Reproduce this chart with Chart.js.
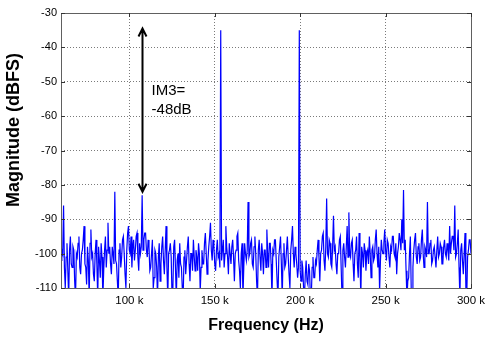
<!DOCTYPE html>
<html>
<head>
<meta charset="utf-8">
<script src="https://cdn.jsdelivr.net/npm/chart.js@4/dist/chart.umd.min.js"></script>
<style>
  body { margin: 0; background: #fff; }
  #wrap { width: 494px; height: 340px; }
</style>
</head>
<body>
<div id="wrap"><canvas id="spec" width="494" height="340"></canvas></div>
<script>
// two-tone spectrum, 0.5 kHz bins starting at 59.5 kHz (one row = 10 kHz)
var freqStartHz = 59500;
var freqStepHz = 500;
var magDbfs = [
  -96, -102, -99, -100, -86, -104, -110, -101, -97, -105, -113, -99, -95, -103, -104, -98, -99, -108, -113, -100,
  -101, -97, -95, -104, -106, -100, -99, -96, -92, -103, -104, -109, -98, -102, -113, -97, -93, -101, -100, -106,
  -108, -100, -96, -103, -113, -98, -102, -107, -97, -101, -113, -105, -99, -95, -104, -99, -91, -100, -98, -103,
  -106, -98, -100, -103, -82, -102, -103, -108, -113, -99, -97, -104, -101, -96, -95, -100, -106, -110, -99, -94,
  -92, -99, -100, -95, -104, -98, -96, -102, -99, -95, -94, -101, -105, -97, -100, -98, -83, -99, -96, -94,
  -94, -99, -101, -96, -98, -105, -104, -100, -96, -110, -107, -99, -100, -104, -113, -101, -97, -108, -103, -98,
  -95, -102, -106, -99, -92, -104, -113, -100, -99, -97, -101, -113, -110, -98, -96, -104, -113, -102, -100, -107,
  -97, -103, -104, -110, -113, -101, -99, -106, -102, -98, -95, -103, -108, -100, -100, -105, -96, -101, -105, -99,
  -101, -105, -97, -100, -111, -104, -99, -103, -103, -97, -94, -100, -106, -102, -98, -95, -91, -99, -102, -96,
  -98, -103, -105, -99, -96, -101, -100, -104, -35, -102, -99, -96, -104, -100, -92, -98, -101, -106, -97, -100,
  -103, -98, -96, -101, -108, -100, -99, -95, -94, -102, -105, -110, -100, -97, -113, -104, -97, -100, -102, -99,
  -85, -101, -100, -97, -96, -103, -104, -98, -95, -100, -108, -113, -99, -96, -101, -105, -97, -100, -106, -99,
  -99, -104, -93, -100, -104, -97, -97, -103, -113, -99, -100, -96, -96, -102, -108, -113, -101, -98, -95, -103,
  -113, -100, -97, -104, -103, -99, -95, -101, -106, -110, -99, -96, -92, -100, -104, -98, -100, -103, -107, -104,
  -35, -105, -108, -102, -104, -110, -113, -106, -102, -108, -109, -103, -105, -113, -113, -104, -101, -107, -107, -102,
  -103, -99, -96, -101, -108, -100, -99, -95, -94, -102, -105, -98, -84, -100, -101, -96, -97, -103, -104, -98,
  -89, -99, -98, -103, -106, -100, -100, -96, -95, -104, -113, -99, -97, -101, -104, -98, -92, -101, -88, -100,
  -101, -97, -96, -103, -108, -100, -99, -95, -103, -107, -94, -101, -113, -98, -100, -104, -97, -99, -105, -100,
  -99, -103, -95, -100, -107, -99, -98, -102, -101, -96, -93, -100, -104, -98, -111, -102, -96, -99, -100, -97,
  -93, -99, -102, -96, -97, -101, -104, -98, -99, -95, -95, -100, -101, -97, -106, -100, -98, -94, -96, -99,
  -90, -97, -81.5, -99, -96, -105, -113, -108, -107, -100, -95, -110, -113, -104, -99, -96, -94, -101, -103, -98,
  -97, -102, -101, -96, -93, -100, -104, -98, -99, -101, -85, -100, -100, -97, -96, -103, -102, -99, -98, -101,
  -104, -99, -95, -101, -100, -97, -98, -103, -103, -98, -96, -100, -101, -97, -99, -102, -92, -100, -97, -95,
  -95, -99, -86, -101, -100, -97, -93, -104, -113, -99, -97, -102, -106, -100, -94, -110, -113, -101, -99, -96,
  -96, -100, -101, -97, -98
];

var xTicks = [100000, 150000, 200000, 250000, 300000];
var xTickLabels = ['100 k', '150 k', '200 k', '250 k', '300 k'];
var yTicks = [-110, -100, -90, -80, -70, -60, -50, -40, -30];

// IM3 annotation
var im3Freq = 107500;
var im3Top = -34.5;
var im3Bottom = -82;
var im3Text = ['IM3=', '-48dB'];
var im3TextFreq = 113000;
var im3TextMag = [-53.8, -59.4];

var points = magDbfs.map(function(m, i){
  return { x: freqStartHz + i * freqStepHz, y: m };
});

// box, inward ticks, arrow and y title (matlab look)
var boxPlugin = {
  id: 'box',
  afterDatasetsDraw: function(chart){
    var ctx = chart.ctx, a = chart.chartArea;
    var xs = chart.scales.x, ys = chart.scales.y;
    ctx.save();
    ctx.strokeStyle = '#606060';
    ctx.lineWidth = 1;
    ctx.strokeRect(Math.round(a.left) + 0.5, Math.round(a.top) + 0.5,
      Math.round(a.right - a.left), Math.round(a.bottom - a.top));
    ctx.strokeStyle = '#333';
    ctx.beginPath();
    xTicks.forEach(function(v){
      var px = Math.round(xs.getPixelForValue(v)) + 0.5;
      ctx.moveTo(px, a.top); ctx.lineTo(px, a.top + 4);
      ctx.moveTo(px, a.bottom); ctx.lineTo(px, a.bottom - 4);
    });
    yTicks.forEach(function(v){
      var py = Math.round(ys.getPixelForValue(v)) + 0.5;
      ctx.moveTo(a.left, py); ctx.lineTo(a.left + 4, py);
      ctx.moveTo(a.right, py); ctx.lineTo(a.right - 4, py);
    });
    ctx.stroke();

    // double arrow
    var ax = Math.round(xs.getPixelForValue(im3Freq)) + 0.5;
    var yt = ys.getPixelForValue(im3Top), yb = ys.getPixelForValue(im3Bottom);
    ctx.strokeStyle = '#000';
    ctx.lineWidth = 2;
    ctx.beginPath();
    ctx.moveTo(ax, yt + 1); ctx.lineTo(ax, yb - 1);
    ctx.moveTo(ax - 4, yt + 8); ctx.lineTo(ax, yt); ctx.lineTo(ax + 4, yt + 8);
    ctx.moveTo(ax - 4, yb - 8); ctx.lineTo(ax, yb); ctx.lineTo(ax + 4, yb - 8);
    ctx.stroke();

    ctx.fillStyle = '#000';
    ctx.font = '15px "Liberation Sans", Arial, sans-serif';
    ctx.textAlign = 'left';
    ctx.textBaseline = 'alphabetic';
    var tx = xs.getPixelForValue(im3TextFreq);
    im3Text.forEach(function(t, i){
      ctx.fillText(t, tx, ys.getPixelForValue(im3TextMag[i]));
    });

    ctx.translate(14, 130);
    ctx.rotate(-Math.PI / 2);
    ctx.font = 'bold 18px "Liberation Sans", Arial, sans-serif';
    ctx.textAlign = 'center';
    ctx.textBaseline = 'middle';
    ctx.fillText('Magnitude (dBFS)', 0, 0);
    ctx.restore();
  }
};

new Chart(document.getElementById('spec'), {
  type: 'line',
  data: {
    datasets: [{
      data: points,
      borderColor: '#0000ff',
      borderWidth: 1.2,
      pointRadius: 0,
      fill: false,
      tension: 0
    }]
  },
  options: {
    responsive: false,
    animation: false,
    devicePixelRatio: 1,
    layout: { padding: { left: 0, top: 13, right: 23, bottom: 0 } },
    plugins: { legend: { display: false }, tooltip: { enabled: false } },
    scales: {
      x: {
        type: 'linear',
        min: 60000,
        max: 300000,
        afterBuildTicks: function(s){ s.ticks = xTicks.map(function(v){ return { value: v }; }); },
        afterFit: function(s){ s.height = 52; },
        grid: { color: '#7a7a7a', drawTicks: false },
        border: { display: false, dash: [1, 2] },
        ticks: {
          padding: 6,
          color: '#000',
          maxRotation: 0,
          font: { family: '"Liberation Sans", Arial, sans-serif', size: 11.5 },
          callback: function(v){ return xTickLabels[xTicks.indexOf(v)]; }
        },
        title: {
          display: true,
          text: 'Frequency (Hz)',
          color: '#000',
          padding: { top: 0, bottom: 5 },
          font: { family: '"Liberation Sans", Arial, sans-serif', size: 16, weight: 'bold' }
        }
      },
      y: {
        min: -110,
        max: -30,
        afterBuildTicks: function(s){ s.ticks = yTicks.map(function(v){ return { value: v }; }); },
        afterFit: function(s){ s.width = 61; },
        grid: { color: '#7a7a7a', drawTicks: false },
        border: { display: false, dash: [1, 2] },
        ticks: {
          padding: 4,
          color: '#000',
          font: { family: '"Liberation Sans", Arial, sans-serif', size: 11 },
          callback: function(v){ return String(v); }
        }
      }
    }
  },
  plugins: [boxPlugin]
});
</script>
</body>
</html>
